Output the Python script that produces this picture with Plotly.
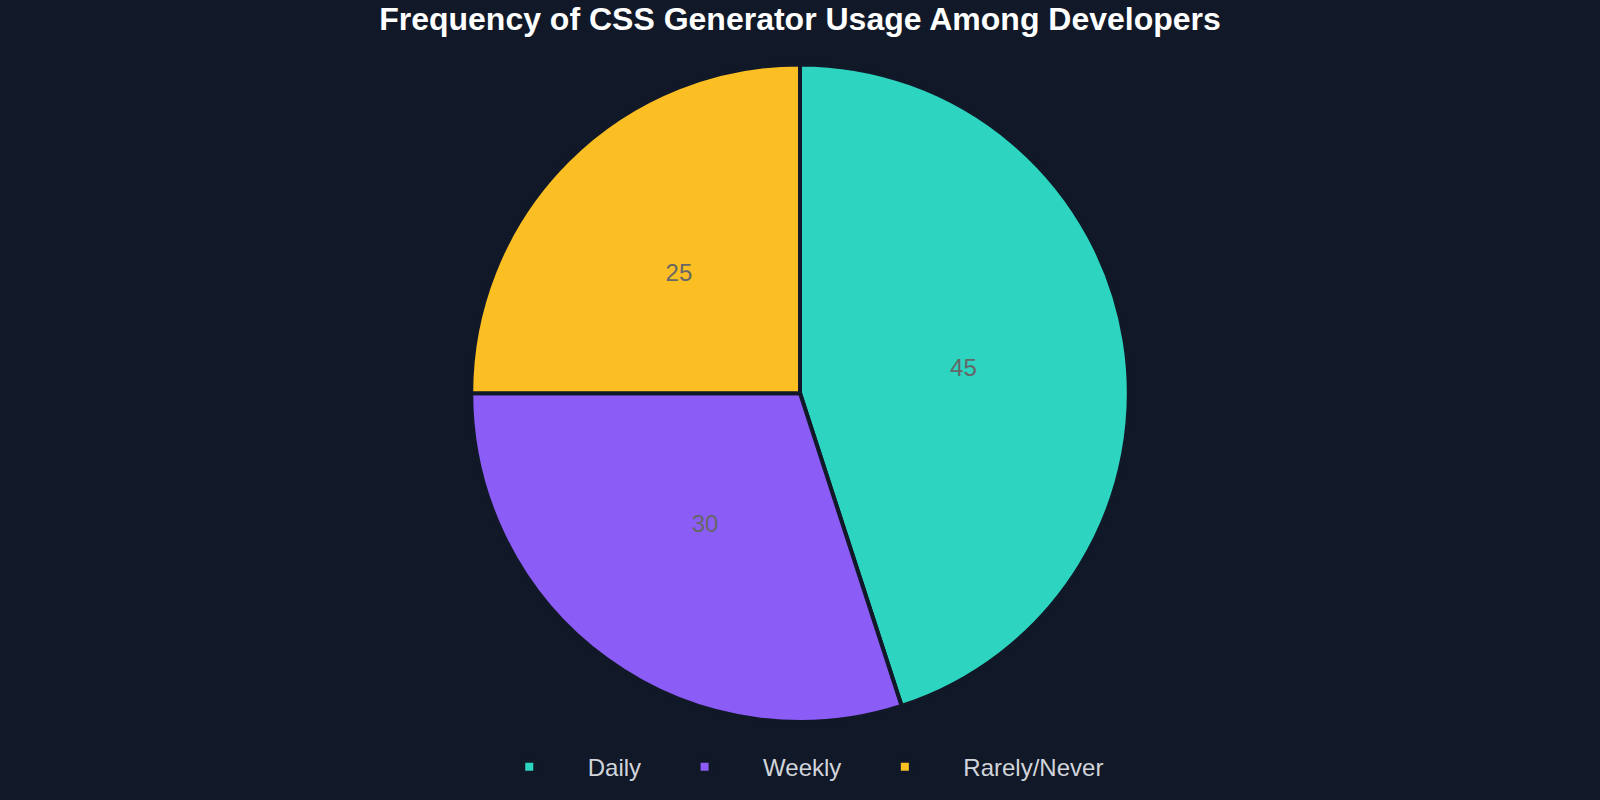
import plotly.graph_objects as go

categories = ["Daily", "Weekly", "Rarely/Never"]
values = [45, 30, 25]
colors = ["#2DD4BF", "#8B5CF6", "#FBBF24"]

bg = "#111827"
label_font = dict(color="#666666", size=24, family="Liberation Sans, Arial, sans-serif")

# main pie: slices, legend, and the label of the big slice
main = go.Pie(
    labels=categories,
    values=values,
    sort=False,
    direction="clockwise",
    rotation=0,
    marker=dict(colors=colors, line=dict(color=bg, width=4)),
    texttemplate=["%{value}", "", ""],
    textposition="inside",
    insidetextorientation="horizontal",
    textfont=label_font,
    domain=dict(x=[0, 1], y=[0.0975, 0.9195]),
    hoverinfo="label+value",
)

# transparent overlay carrying the labels of the smaller slices closer to centre
labels_overlay = go.Pie(
    labels=categories,
    values=values,
    sort=False,
    direction="clockwise",
    rotation=0,
    marker=dict(colors=["rgba(0,0,0,0)"] * len(values), line=dict(width=0)),
    texttemplate=["", "%{value}", "%{value}"],
    textposition="inside",
    insidetextorientation="horizontal",
    textfont=label_font,
    domain=dict(x=[0, 1], y=[0.143, 0.874]),
    hoverinfo="skip",
    showlegend=False,
)

fig = go.Figure([main, labels_overlay])

fig.update_layout(
    width=1600,
    height=800,
    paper_bgcolor=bg,
    plot_bgcolor=bg,
    margin=dict(l=0, r=0, t=0, b=0),
    font=dict(family="Liberation Sans, Arial, sans-serif", color="#D1D5DB"),
    title=dict(
        text="<b>Frequency of CSS Generator Usage Among Developers</b>",
        x=0.5, xanchor="center",
        y=0.977, yanchor="middle",
        font=dict(size=32, color="#FFFFFF"),
    ),
    legend=dict(
        orientation="h",
        x=0.4936, xanchor="center",
        y=0.041, yanchor="middle",
        font=dict(size=24, color="#D1D5DB"),
        itemwidth=107,
        bgcolor="rgba(0,0,0,0)",
    ),
    showlegend=True,
)

fig.write_html(
    "out.html",
    config={"displayModeBar": False},
    post_script="document.body.style.margin='0';document.body.style.overflow='hidden';document.body.style.background='#111827';",
)
